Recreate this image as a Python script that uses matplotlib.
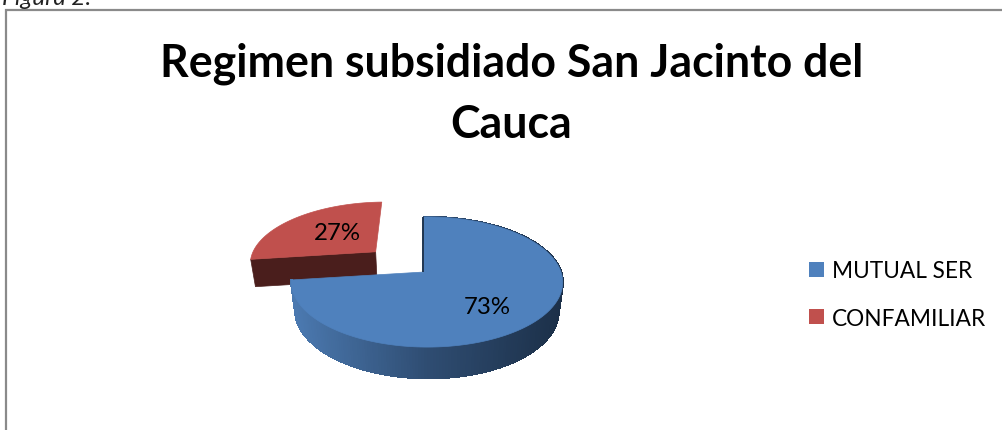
import numpy as np
import matplotlib.pyplot as plt
from matplotlib.colors import LinearSegmentedColormap
from matplotlib.patches import Patch

plt.rcParams['font.family'] = ['Lato', 'DejaVu Sans']

# Data
categories = ["MUTUAL SER", "CONFAMILIAR"]
shares = [73, 27]
chart_title = "Regimen subsidiado San Jacinto del\nCauca"
caption = "Figura 2."

# Colours
top_colors = ["#4F81BD", "#C0504D"]
red_side = "#4A1E1C"
blue_side = LinearSegmentedColormap.from_list(
    "blue_side", ["#4B79B0", "#2F4D72", "#1C3049"])

# Pie geometry in pixels (perspective view of a flat disc)
CX, CY = 424, 273
RX, RY = 134, 63.5
DEPTH = 29.5


def project(u, v, z=0.0):
    s = 1 / (1 + 0.154 * v - 0.022 * u + 0.03 * z)
    return CX + RX * u * s, CY - (RY * v - DEPTH * z) * s


fig = plt.figure(figsize=(10.03, 4.31), dpi=100)
ax = fig.add_axes([0, 0, 1, 1])
ax.set_xlim(0, 1003)
ax.set_ylim(431, 0)
ax.axis("off")

# frame and caption cut by the top of the page
ax.plot([6, 6, 1003], [431, 11, 11], color="#8A8A8A", lw=1.6,
        solid_joinstyle="miter")
ax.text(2, 5, caption, style="italic", fontsize=17.5, color="#222222",
        ha="left", va="baseline")

ax.text(511.5, 94, chart_title, fontsize=32.1, fontweight="bold", ha="center",
        va="center", linespacing=1.57, color="black")

# slice angles, clockwise from 12 o'clock
total = sum(shares)
edges = 90 - np.cumsum([0] + shares) * 360 / total
mid_red = np.radians((edges[1] + edges[2]) / 2)
explode = 0.51
ox, oy = explode * np.cos(mid_red), explode * np.sin(mid_red)

# red slice, pulled out
theta = np.radians(np.linspace(edges[1], edges[2], 60))
ru, rv = ox + np.cos(theta), oy + np.sin(theta)
x0, y0 = project(ox, oy)
x1, y1 = project(ru[0], rv[0])
x2, y2 = project(ru[0], rv[0], 1)
x3, y3 = project(ox, oy, 1)
ax.fill([x0, x1, x2, x3], [y0, y1, y2, y3], color=red_side, lw=0.5)
xt, yt = project(ru, rv)
ax.fill(np.r_[x0, xt], np.r_[y0, yt], color=top_colors[1], lw=0.5)

# blue slice side, shaded from left to right
theta = np.radians(np.linspace(edges[0], edges[1], 240))
bu, bv = np.cos(theta), np.sin(theta)
xt, yt = project(bu, bv)
xb, yb = project(bu, bv, 1)
for i in range(len(theta) - 1):
    c = blue_side(np.clip((xt[i] - 292) / 270, 0, 1))
    ax.fill([xt[i], xt[i + 1], xb[i + 1], xb[i]],
            [yt[i], yt[i + 1], yb[i + 1], yb[i]],
            facecolor=c, edgecolor=c, lw=1.0, antialiased=False)

# blue top and the thin sliver of its cut face
x0, y0 = project(0, 0)
ax.plot([x0 - 1, xt[0] - 1], [y0, yt[0]], color="#1F3550", lw=1.4,
        solid_capstyle="butt")
ax.fill(np.r_[x0, xt], np.r_[y0, yt], color=top_colors[0], lw=0.5)

# percent labels
ax.text(337, 234, f"{shares[1]}%", fontsize=17.3, ha="center", va="center",
        color="black")
ax.text(487, 308, f"{shares[0]}%", fontsize=17.3, ha="center", va="center",
        color="black")

handles = [Patch(facecolor=c, edgecolor="none") for c in top_colors]
fig.legend(handles, categories, loc="center left",
           bbox_to_anchor=(809 / 1003, 1 - 295.5 / 431), frameon=False,
           fontsize=16.3, handlelength=0.665, handleheight=0.665,
           handletextpad=0.35, labelspacing=1.15, borderpad=0, borderaxespad=0)

fig.savefig("out.png", dpi=100)
